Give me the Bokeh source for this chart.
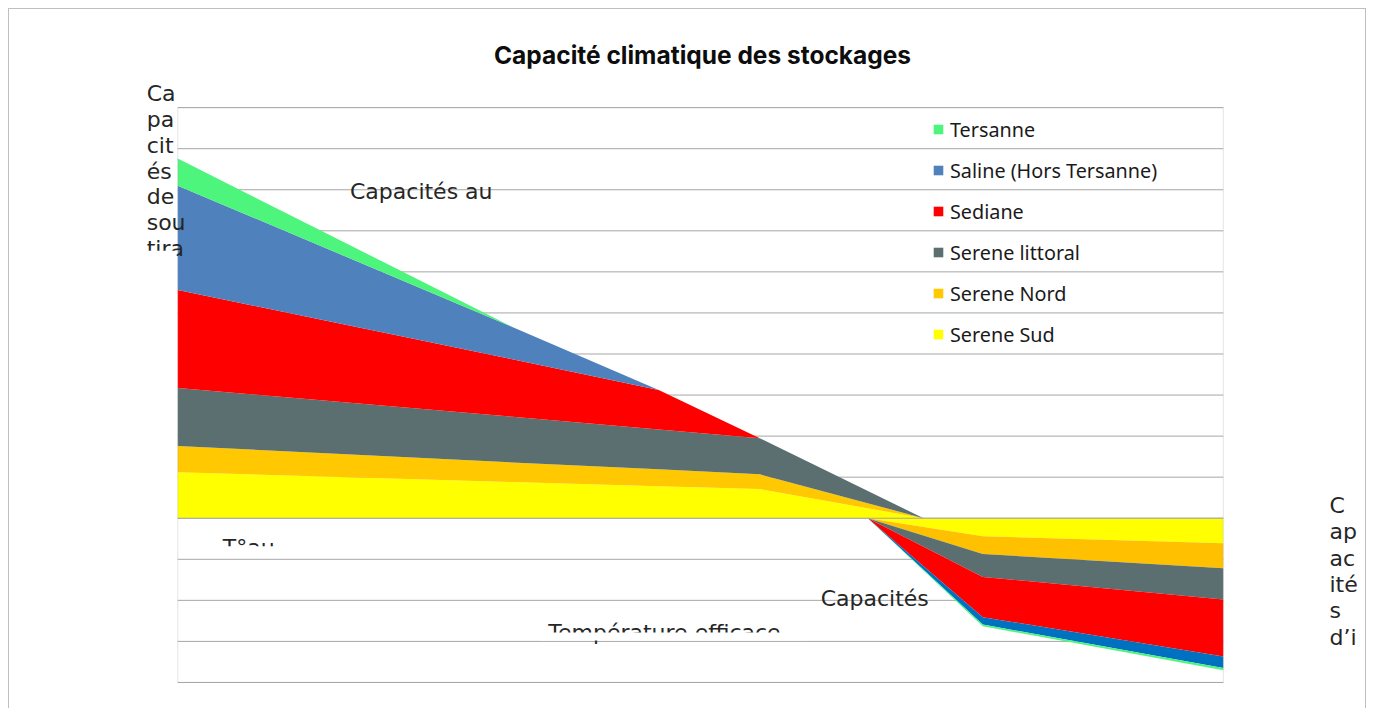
import numpy as np
from bokeh.plotting import figure
from bokeh.models import (ColumnDataSource, Range1d, Legend, LegendItem,
                          Label, BoxAnnotation)
from bokeh.embed import file_html
from bokeh.resources import INLINE

# ---------------- data ----------------
series = ["Serene Sud", "Serene Nord", "Serene littoral", "Sediane",
          "Saline (Hors Tersanne)", "Tersanne"]

# soutirage (withdrawal) side, by effective temperature (°C)
temp_soutirage = [-15, -5.4, -1.2, 1.7, 6.4]
serene_sud_s = [112, 88, 78, 71, 0]
serene_nord_s = [64, 48, 41, 36, 0]
serene_littoral_s = [141, 111, 97, 88, 0]
sediane_s = [239, 140, 96, 0, 0]
saline_s = [254, 79, 0, 0, 0]
tersanne_s = [66, 0, 0, 0, 0]

# injection side (negative values)
temp_injection = [4.8, 8.1, 15]
serene_sud_i = [0, -44, -61]
serene_nord_i = [0, -43, -61]
serene_littoral_i = [0, -56, -76]
sediane_i = [0, -98, -139]
saline_i = [0, -18, -28]
tersanne_i = [0, -4, -5]

grid_values = list(range(-400, 1001, 100))

colors_s = ["#FFFF00", "#FFC800", "#5B6F70", "#FF0000", "#4F81BD", "#4DF57C"]
colors_i = ["#FFFF00", "#FFC000", "#5B6F70", "#FF0000", "#0070C0", "#4DF57C"]

title_text = "Capacité climatique des stockages"
left_title_parts = ["Ca", "pa", "cit", "és", "de", "sou", "tira"]
right_title_parts = ["C", "ap", "ac", "ité", "s", "d\u2019i"]

X0, X1 = -15, 15       # plot-area x range
Y0, Y1 = -400, 1000    # plot-area y range

# ---------------- layout (page pixels) ----------------
FL, FR, FT, FB = 177, 1221, 107, 681   # plot area edges on page
CL, CR, CT, CB = 9, 1365, 9, 708       # canvas edges on page


def dx(px):
    return X0 + (X1 - X0) * (px - FL) / (FR - FL)


def dy(py):
    return Y1 - (Y1 - Y0) * (py - FT) / (FB - FT)


p = figure(width=1358, height=700, x_range=Range1d(dx(CL), dx(CR)),
           y_range=Range1d(dy(CB), dy(CT)),
           output_backend="svg", toolbar_location=None,
           min_border_left=0, min_border_right=0, min_border_top=0, min_border_bottom=0)
p.styles = {"margin-left": "8px", "margin-top": "8px",
            "border-left": "1px solid #BFBFBF", "border-right": "1px solid #BFBFBF",
            "border-top": "1px solid #BFBFBF", "box-sizing": "border-box"}
p.xaxis.visible = False
p.yaxis.visible = False
p.grid.visible = False
p.outline_line_color = None
p.background_fill_color = "white"
p.border_fill_color = "white"

GRID = "#A6A6A6"
# horizontal gridlines (behind the areas)
p.segment(x0=[X0] * len(grid_values), x1=[X1] * len(grid_values),
          y0=grid_values, y1=grid_values, line_color=GRID, line_width=1)

src_s = ColumnDataSource(dict(x=temp_soutirage, s0=serene_sud_s, s1=serene_nord_s,
                              s2=serene_littoral_s, s3=sediane_s, s4=saline_s, s5=tersanne_s))
src_i = ColumnDataSource(dict(x=temp_injection, s0=serene_sud_i, s1=serene_nord_i,
                              s2=serene_littoral_i, s3=sediane_i, s4=saline_i, s5=tersanne_i))
keys = ["s0", "s1", "s2", "s3", "s4", "s5"]

rs = p.varea_stack(stackers=keys, x="x", color=colors_s, source=src_s)
ri = p.varea_stack(stackers=keys, x="x", color=colors_i, source=src_i)

# horizontal axis line at zero, drawn over the areas
p.segment(x0=[X0], x1=[X1], y0=[0], y1=[0], line_color=GRID, line_width=1)
# plot-area border
p.add_layout(BoxAnnotation(left=X0, right=X1, bottom=Y0, top=Y1, fill_color=None,
                           line_color=GRID, line_width=1))

# legend
items = [LegendItem(label=series[k], renderers=[rs[k]]) for k in range(5, -1, -1)]
legend = Legend(items=items, location=(932 - CL, CB - 346.5), padding=0, margin=0,
                spacing=14, label_height=27, glyph_height=12, glyph_width=12,
                label_standoff=6, label_text_font="Noto Sans", label_text_font_size="19.8px",
                label_text_color="#1a1a1a", border_line_alpha=0, background_fill_alpha=0)
p.add_layout(legend, "center")

# title
p.add_layout(Label(x=dx(701), y=dy(54), text=title_text, text_align="center",
                   text_baseline="alphabetic", text_font="Inter", text_font_style="bold",
                   text_font_size="24.5px", text_color="#0d0d0d"))

TF = "DejaVu Sans"
TS = "22px"
TC = "#262626"
SHIFT = 7


def add_text(txt, px, py):
    p.add_layout(Label(x=dx(px), y=dy(py - SHIFT), text=txt, text_align="left",
                       text_baseline="alphabetic", text_font=TF, text_font_size=TS,
                       text_color=TC))


for k, t in enumerate(left_title_parts):
    add_text(t, 146, 100 + 25.8 * k)
for k, t in enumerate(right_title_parts):
    add_text(t, 1327, 511 + 26.4 * k)

add_text("Capacités au", 349, 198)
add_text("Capacités", 819, 604)
add_text("T°au", 222, 553)
add_text("Température efficace", 547, 638)


def mask(px0, px1, py0, py1):
    p.add_layout(BoxAnnotation(left=dx(px0), right=dx(px1), top=dy(py0), bottom=dy(py1),
                               fill_color="white", fill_alpha=1, line_alpha=0))


mask(130, 176, 250, 262)
mask(212, 300, 545, 556)
mask(538, 800, 631, 639)

open("out.html", "w").write(file_html(p, INLINE))
